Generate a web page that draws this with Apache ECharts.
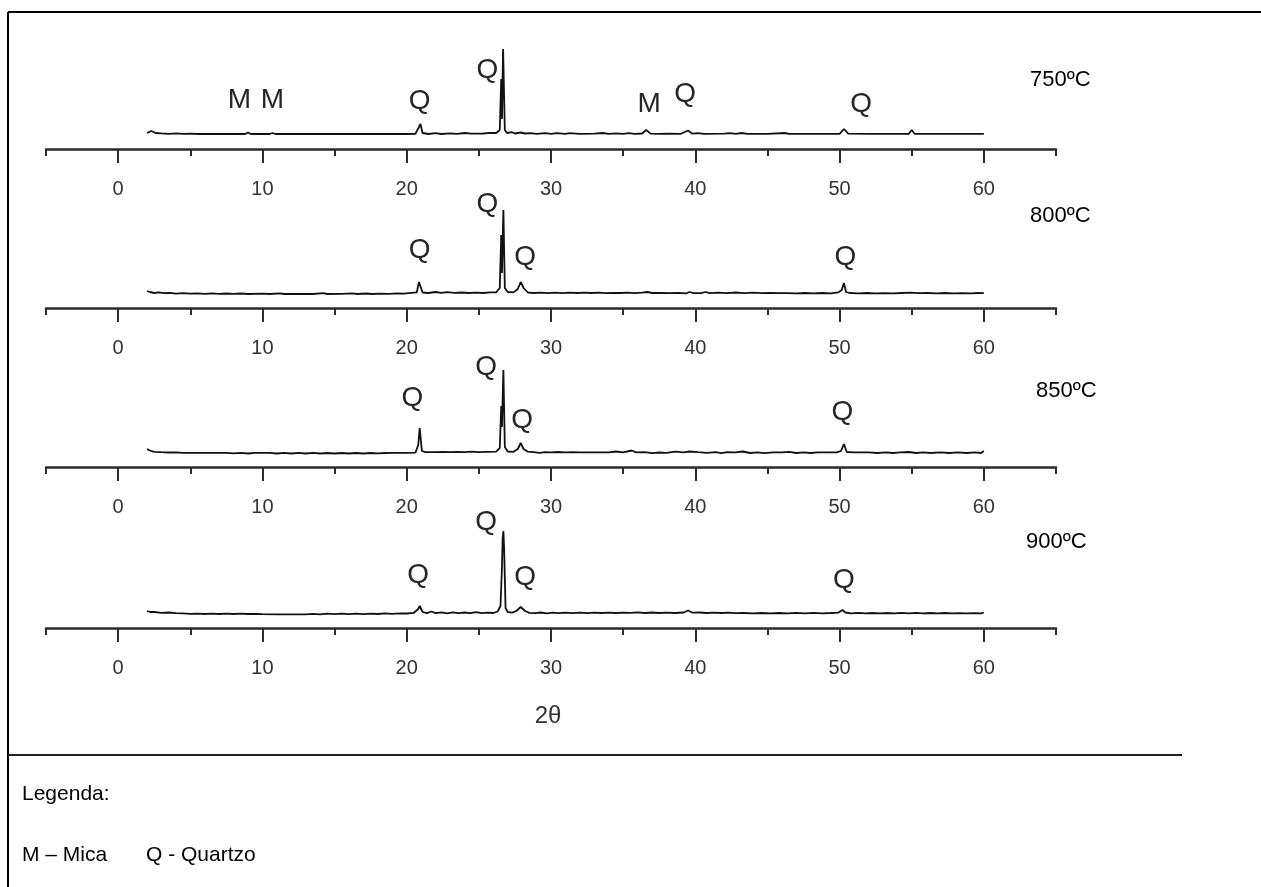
<!DOCTYPE html>
<html>
<head>
<meta charset="utf-8">
<script src="https://cdn.jsdelivr.net/npm/echarts@6/dist/echarts.min.js"></script>
<style>
html,body{margin:0;padding:0;background:#fff;}
#chart{width:1261px;height:887px;}
</style>
</head>
<body>
<div id="chart"></div>
<script>
// ---- data (2θ in degrees, intensity in arbitrary units) ----
const temperatures = ['750ºC', '800ºC', '850ºC', '900ºC'];
const majorTicks = [0, 10, 20, 30, 40, 50, 60];
const minorTicks = [-5, 5, 15, 25, 35, 45, 55, 65];
const xLabel = '2θ';
const legendTitle = 'Legenda:';
const legendItems = ['M – Mica', 'Q - Quartzo'];

const s750 = [[2.0,16],[2.3,18],[2.6,16],[3.0,15.6],[3.5,15.2],[4.0,15.6],[4.5,15.2],[5.0,15.4],[5.5,15],[7,15],[8.8,15],[9.0,16.5],[9.2,15],[10.5,15],[10.7,16],[10.9,15],[14,15],[17,15],[20,15],[20.6,15.2],[20.85,22],[20.95,25],[21.1,16],[21.5,15],[22,15.8],[22.4,15],[23,15.6],[23.5,15.2],[24,16],[24.5,15.4],[25.3,15.5],[25.8,16.2],[26.2,16],[26.45,19],[26.55,70],[26.6,30],[26.68,100],[26.8,19],[26.95,16],[27.3,16.8],[27.5,15.5],[27.9,16.5],[28.2,15.5],[28.6,15.8],[29,15.2],[29.6,15.8],[30,15.2],[30.4,15.9],[31,15.2],[31.3,15.8],[32,15.2],[33,15.3],[33.6,16],[34,15.2],[34.5,15.6],[35,15.2],[35.4,15.8],[35.8,15.2],[36.3,15.5],[36.6,19],[36.9,15.4],[37.5,15.2],[38.2,15.3],[39,15.2],[39.5,18.5],[39.8,15.3],[40.2,15.8],[40.6,15.2],[42,15.3],[42.4,15.9],[42.8,15.2],[43.2,16],[43.6,15.2],[45,15.2],[46.2,16],[46.5,15.2],[48,15.2],[50,15.2],[50.3,20],[50.6,15.3],[52,15.2],[54.8,15.2],[55.0,19],[55.2,15.2],[57,15.1],[60,15.2]];

const s800 = [[2.0,17],[2.2,16],[2.5,15],[2.8,15.6],[3.2,14.8],[3.6,15.2],[4.0,14.4],[4.5,14.9],[5.0,14.3],[5.5,14.7],[6.0,14.2],[6.5,14.6],[7.0,14.1],[7.5,14.5],[8.0,14.1],[8.5,14.5],[9.0,14.0],[10,14.3],[10.5,14.0],[11.2,14.7],[11.5,14.0],[12.5,14.1],[13.5,14.0],[14.2,14.8],[14.5,14.0],[15.5,14.1],[16.2,14.6],[16.6,14.0],[17.2,14.5],[17.6,14.0],[18.2,14.4],[18.8,14.1],[19.3,14.7],[19.8,14.4],[20.3,15.2],[20.7,15.6],[20.85,26],[20.95,28],[21.1,15.5],[21.5,15.0],[22,16],[22.4,15.2],[22.8,15.8],[23.3,15.1],[23.8,15.5],[24.3,15.0],[24.8,15.4],[25.3,15.0],[25.8,15.6],[26.2,15.6],[26.45,20],[26.55,73],[26.6,35],[26.7,98],[26.8,20],[27.0,16],[27.4,15.6],[27.7,19],[27.9,26],[28.1,20],[28.4,15.5],[28.8,15.0],[29.3,15.4],[29.8,14.9],[30.3,15.3],[30.8,14.9],[31.3,15.4],[31.8,15.0],[32.3,15.4],[32.8,15.0],[33.3,15.3],[33.8,14.9],[34.3,15.2],[34.8,15.0],[35.3,15.3],[35.8,14.9],[36.3,15.4],[36.7,16],[37.0,15.0],[37.6,15.2],[38.2,14.8],[38.8,15.2],[39.4,14.7],[39.6,16],[39.9,14.8],[40.4,14.9],[40.7,16],[41.0,14.8],[41.6,15.3],[42.2,14.9],[42.8,15.5],[43.4,14.9],[44,15.3],[44.6,14.9],[45.2,15.2],[45.8,14.8],[46.4,14.8],[47,14.7],[47.6,15.0],[48.2,14.7],[48.8,15.0],[49.4,14.7],[49.9,15.6],[50.15,18],[50.3,25],[50.45,16],[50.7,15.0],[51.3,14.7],[51.9,15.0],[52.5,14.7],[53.1,14.9],[53.7,14.7],[54.3,15.0],[54.9,15.3],[55.5,14.8],[56.1,15.0],[56.7,14.7],[57.3,15.0],[57.9,14.7],[58.5,14.9],[59.1,14.7],[59.6,15.0],[60,14.8]];

const s850 = [[2.0,18],[2.2,16.5],[2.5,15.2],[3.0,14.8],[3.5,14.5],[4.0,14.6],[4.5,14.2],[5.5,14.2],[6.5,14.1],[7.5,14.2],[8.0,13.6],[8.5,14.2],[9.0,13.5],[9.5,14.2],[10.5,14.1],[11,13.5],[11.5,14.1],[12,13.5],[12.5,14.1],[13,13.5],[13.5,14.1],[14,13.5],[14.5,14.0],[15,13.5],[15.5,14.0],[16,13.5],[16.5,14.0],[17,13.5],[17.5,14.0],[18,13.6],[18.5,14.0],[19,14.2],[20,14.2],[20.6,14.3],[20.8,22],[20.9,39],[21.05,16],[21.3,14.8],[22,14.8],[22.5,15.2],[23,14.8],[23.5,15.2],[24,14.9],[24.5,15.3],[25,14.9],[25.5,15.2],[26.2,15.4],[26.45,19],[26.55,61],[26.6,40],[26.7,97],[26.8,20],[27.0,15.5],[27.4,15.2],[27.7,18],[27.9,24],[28.1,18],[28.4,15.3],[28.8,14.8],[29.2,14.2],[29.6,14.9],[30,14.6],[30.5,15.0],[31,14.6],[31.5,14.9],[32,14.6],[33,14.7],[34,14.7],[34.5,15.5],[35,14.6],[35.6,16.5],[35.9,14.6],[36.5,14.8],[37,13.9],[37.5,14.5],[38,14.2],[38.6,15.3],[39.2,14.6],[39.6,15.5],[40.2,14.8],[40.8,14.2],[41.4,14.8],[41.8,13.9],[42.2,14.8],[42.8,14.6],[43.3,15.5],[43.8,14.0],[44.3,14.6],[44.8,13.9],[45.4,14.6],[46,14.6],[46.5,15.2],[47,14.0],[47.5,14.6],[48,14.0],[48.5,14.6],[49.2,14.6],[49.8,14.7],[50.1,16],[50.3,23],[50.5,15],[51,14.6],[52,14.6],[52.6,14.0],[53.2,14.6],[53.7,14.0],[54.2,14.6],[54.8,15.0],[55.3,14.0],[55.8,14.6],[56.3,14.0],[57,14.6],[57.6,14.0],[58.2,14.6],[58.8,14.0],[59.4,14.6],[59.8,14.0],[60,16]];

const s900 = [[2.0,17],[2.2,16],[2.5,16],[3.0,15.2],[3.5,15.5],[4.0,14.8],[4.5,14.6],[5.0,14.2],[5.5,14.4],[6.0,14.0],[6.5,14.3],[7.0,14.0],[7.5,14.3],[8.0,14.0],[8.5,14.3],[9.0,14.0],[9.5,14.2],[10,13.8],[11,13.6],[12,13.6],[13,13.6],[13.5,14.2],[14,13.7],[14.5,14.4],[15,13.8],[15.5,14.4],[16,13.8],[16.5,14.3],[17,13.8],[17.5,14.4],[18,14.0],[18.5,14.6],[19,14.2],[19.5,14.7],[20,14.5],[20.5,15.2],[20.8,19],[20.9,22],[21.1,16],[21.4,14.8],[21.7,16.5],[22,14.8],[22.4,15.6],[22.8,14.6],[23.2,15.6],[23.6,14.8],[24.0,15.5],[24.4,14.8],[24.8,15.8],[25.2,14.8],[25.6,15.4],[26.0,15.0],[26.3,16.5],[26.5,22],[26.6,60],[26.65,90],[26.7,97],[26.75,80],[26.85,20],[27.0,16],[27.3,15.3],[27.6,17],[27.9,21],[28.2,17],[28.5,15.2],[28.9,14.8],[29.3,15.5],[29.7,14.7],[30.1,15.3],[30.5,14.8],[31,15.4],[31.5,14.8],[32,15.3],[32.5,14.8],[33,15.4],[33.5,15.0],[34,15.4],[34.5,15.0],[35,15.4],[35.5,15.2],[36,15.6],[36.5,15.0],[37,15.5],[37.5,15.0],[38,15.4],[38.6,15.0],[39.2,15.5],[39.5,17.5],[39.8,15.3],[40.3,15.5],[40.8,15.0],[41.3,15.4],[41.8,15.0],[42.3,15.4],[42.8,14.8],[43.3,15.0],[44,14.6],[44.6,15.0],[45.2,14.6],[45.8,15.0],[46.4,14.6],[47,15.2],[47.6,14.7],[48.2,15.2],[48.8,14.7],[49.4,15.0],[49.9,15.3],[50.2,18],[50.4,15.5],[50.8,14.7],[51.3,15.2],[51.8,14.7],[52.3,15.0],[52.8,14.6],[53.3,15.0],[53.8,14.6],[54.3,15.2],[54.8,14.7],[55.3,15.2],[55.8,14.7],[56.3,15.0],[56.8,14.6],[57.3,15.0],[57.8,14.6],[58.3,14.9],[58.8,14.6],[59.3,14.9],[59.8,14.6],[60,15.5]];

// phase annotations [2θ, height, letter]
const ann750 = [[8.4,49,'M'],[10.7,49,'M'],[20.9,48,'Q'],[25.6,79,'Q'],[36.8,45,'M'],[39.3,55,'Q'],[51.5,45,'Q']];
const ann800 = [[25.6,104,'Q'],[20.9,58,'Q'],[28.2,51,'Q'],[50.4,51,'Q']];
const ann850 = [[25.5,100,'Q'],[20.4,69,'Q'],[28.0,47,'Q'],[50.2,55,'Q']];
const ann900 = [[25.5,106,'Q'],[20.8,53,'Q'],[28.2,51,'Q'],[50.3,48,'Q']];

const spectra = [s750, s800, s850, s900];
const annotations = [ann750, ann800, ann850, ann900];

// ---- layout ----
const axisY = [149, 308, 467, 628];
const gridH = 110;
const tempPos = [[1030, 80], [1030, 216], [1036, 391], [1026, 542]];
const tickFont = "'Liberation Sans Narrow','Liberation Sans',Arial,sans-serif";
const textFont = "'Liberation Sans',Arial,sans-serif";

const chart = echarts.init(document.getElementById('chart'), null, {renderer: 'canvas'});

const grid = [], xAxis = [], yAxis = [], series = [];
axisY.forEach((ay, i) => {
  grid.push({left: 46, right: 205, top: ay - gridH, height: gridH});
  xAxis.push({
    type: 'value', gridIndex: i, min: -5, max: 65, position: 'bottom',
    axisLine: {show: true, onZero: false, lineStyle: {color: '#2b2b2b', width: 2.5}},
    axisTick: {show: true, inside: false, length: 14, customValues: majorTicks, lineStyle: {color: '#2b2b2b', width: 2}},
    axisLabel: {show: true, customValues: majorTicks, margin: 30, color: '#333', fontSize: 20, fontFamily: tickFont},
    splitLine: {show: false}
  });
  xAxis.push({
    type: 'value', gridIndex: i, min: -5, max: 65, position: 'bottom',
    axisLine: {show: false},
    axisTick: {show: true, length: 7, customValues: minorTicks, lineStyle: {color: '#2b2b2b', width: 2}},
    axisLabel: {show: false},
    splitLine: {show: false}
  });
  yAxis.push({type: 'value', gridIndex: i, min: 0, max: gridH, show: false, splitLine: {show: false}});
  series.push({
    type: 'line', xAxisIndex: 2 * i, yAxisIndex: i, data: spectra[i],
    showSymbol: false, symbol: 'none', smooth: false, clip: false,
    lineStyle: {color: '#111', width: 1.8}, z: 3
  });
  series.push({
    type: 'scatter', xAxisIndex: 2 * i, yAxisIndex: i, data: annotations[i],
    symbol: 'circle', symbolSize: 2, itemStyle: {color: 'rgba(0,0,0,0)', opacity: 1}, clip: false,
    label: {show: true, position: 'inside', formatter: p => p.value[2],
      color: '#262626', fontSize: 28, fontFamily: textFont},
    labelLayout: {hideOverlap: false},
    emphasis: {disabled: true},
    z: 4
  });
});

const graphic = [
  {type: 'line', shape: {x1: 8, y1: 12, x2: 1261, y2: 12}, style: {stroke: '#000', lineWidth: 2}},
  {type: 'line', shape: {x1: 8, y1: 12, x2: 8, y2: 887}, style: {stroke: '#000', lineWidth: 2}},
  {type: 'line', shape: {x1: 8, y1: 755, x2: 1182, y2: 755}, style: {stroke: '#222', lineWidth: 2}},
  {type: 'text', x: 548, y: 716, style: {text: xLabel, font: "24px " + textFont, fill: '#333', textAlign: 'center', textVerticalAlign: 'middle'}},
  {type: 'text', x: 22, y: 794, style: {text: legendTitle, font: "21px " + textFont, fill: '#000', textVerticalAlign: 'middle'}},
  {type: 'text', x: 22, y: 855, style: {text: legendItems[0], font: "21px " + textFont, fill: '#000', textVerticalAlign: 'middle'}},
  {type: 'text', x: 146, y: 855, style: {text: legendItems[1], font: "21px " + textFont, fill: '#000', textVerticalAlign: 'middle'}}
];
temperatures.forEach((t, i) => {
  graphic.push({type: 'text', x: tempPos[i][0], y: tempPos[i][1],
    style: {text: t, font: "22px " + textFont, fill: '#000', textVerticalAlign: 'middle'}});
});

chart.setOption({
  animation: false,
  backgroundColor: '#fff',
  grid, xAxis, yAxis, series, graphic
});
</script>
</body>
</html>
